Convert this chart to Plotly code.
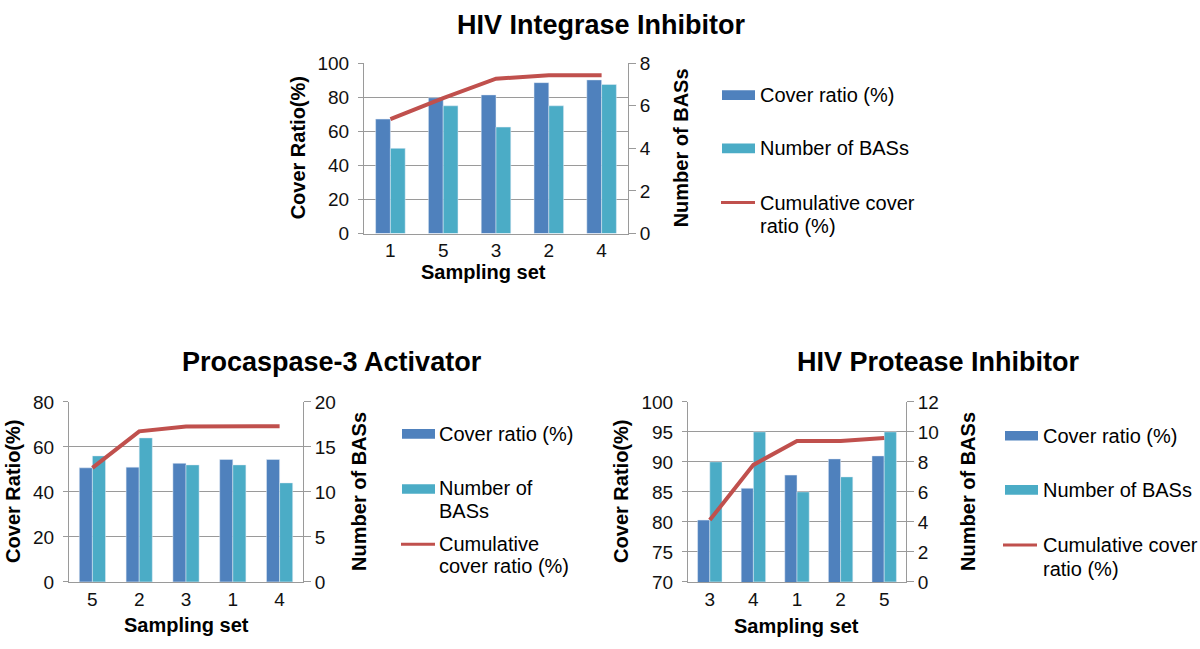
import plotly.graph_objects as go

# ---- Data ----
int_sets = ["1", "5", "3", "2", "4"]
int_cover = [67.2, 79.7, 81.4, 88.6, 90.2]
int_bas = [4, 6, 5, 6, 7]
int_cum = [67.2, 79.5, 90.9, 93.0, 93.0]

pro_sets = ["5", "2", "3", "1", "4"]
pro_cover = [50.7, 51.0, 52.7, 54.4, 54.4]
pro_bas = [14, 16, 13, 13, 11]
pro_cum = [50.7, 66.9, 69.1, 69.2, 69.2]

prot_sets = ["3", "4", "1", "2", "5"]
prot_cover = [80.3, 85.6, 87.8, 90.5, 91.0]
prot_bas = [8, 10, 6, 7, 10]
prot_cum = [80.3, 89.5, 93.5, 93.5, 94.0]

titles = ["HIV Integrase Inhibitor", "Procaspase-3 Activator", "HIV Protease Inhibitor"]

BLUE = "#4F81BD"
CYAN = "#4BACC6"
RED = "#C0504D"
GRID = "#9A9A9A"
FONT = "Liberation Sans, Arial, sans-serif"

W, H = 1200, 649


def px(x):
    return x / W


def py(y):
    return 1 - y / H


fig = go.Figure()

panels = [
    dict(sets=int_sets, cover=int_cover, bas=int_bas, cum=int_cum,
         xa="x", ya="y", ya2="y2", yl="y7", g="a"),
    dict(sets=pro_sets, cover=pro_cover, bas=pro_bas, cum=pro_cum,
         xa="x2", ya="y3", ya2="y4", yl="y8", g="b"),
    dict(sets=prot_sets, cover=prot_cover, bas=prot_bas, cum=prot_cum,
         xa="x3", ya="y5", ya2="y6", yl="y9", g="c"),
]

for p in panels:
    fig.add_trace(go.Bar(x=p["sets"], y=p["cover"], xaxis=p["xa"], yaxis=p["ya"],
                         marker_color=BLUE, name="Cover ratio (%)",
                         offsetgroup=p["g"] + "1", alignmentgroup=p["g"], showlegend=False))
    fig.add_trace(go.Bar(x=p["sets"], y=p["bas"], xaxis=p["xa"], yaxis=p["ya2"],
                         marker_color=CYAN, name="Number of BASs",
                         offsetgroup=p["g"] + "2", alignmentgroup=p["g"], showlegend=False))
    fig.add_trace(go.Scatter(x=p["sets"], y=p["cum"], xaxis=p["xa"], yaxis=p["yl"],
                             mode="lines", line=dict(color=RED, width=4),
                             name="Cumulative cover ratio (%)", showlegend=False))

tickfont = dict(family=FONT, size=19, color="#111")


def xax(dom, anchor):
    return dict(domain=dom, anchor=anchor, type="category", showline=True,
                linecolor=GRID, linewidth=1, showgrid=False, ticks="", ticklen=0,
                tickfont=tickfont, ticklabelstandoff=0)


def yax(dom, anchor, rng, dtick):
    return dict(domain=dom, anchor=anchor, range=rng, dtick=dtick, showline=True,
                linecolor=GRID, linewidth=1, showgrid=True, gridcolor=GRID, gridwidth=1,
                ticks="outside", ticklen=5, tickcolor=GRID, tickfont=tickfont,
                ticklabelstandoff=5, zeroline=False)


def y2ax(anchor, overlay, rng, dtick):
    return dict(anchor=anchor, overlaying=overlay, side="right", range=rng, dtick=dtick,
                showline=True, linecolor=GRID, linewidth=1, showgrid=False,
                ticks="outside", ticklen=7, tickcolor=GRID, tickfont=tickfont,
                zeroline=False)


def hidden(anchor, overlay, rng):
    return dict(anchor=anchor, overlaying=overlay, range=rng, visible=False,
                showgrid=False, zeroline=False)


top_x = [px(364), px(628)]
top_y = [py(231), py(55)]
bl_x = [px(69), px(303)]
br_x = [px(688), px(906)]
bot_y = [py(591), py(405)]

fig.update_layout(
    width=W, height=H,
    margin=dict(l=0, r=0, t=0, b=0),
    paper_bgcolor="white", plot_bgcolor="white",
    barmode="group", bargap=0.44, bargroupgap=0,
    xaxis=xax(top_x, "y"),
    yaxis=yax(top_y, "x", [0, 100], 20),
    yaxis2=y2ax("x", "y", [0, 8], 2),
    xaxis2=xax(bl_x, "y3"),
    yaxis3=yax(bot_y, "x2", [0, 80], 20),
    yaxis4=y2ax("x2", "y3", [0, 20], 5),
    xaxis3=xax(br_x, "y5"),
    yaxis5=yax(bot_y, "x3", [70, 100], 5),
    yaxis6=y2ax("x3", "y5", [0, 12], 2),
    yaxis7=hidden("x", "y", [0, 100]),
    yaxis8=hidden("x2", "y3", [0, 80]),
    yaxis9=hidden("x3", "y5", [70, 100]),
    font=dict(family=FONT),
)

ann = []


def text(x, y, t, size=20, bold=False, angle=0, xanchor="center"):
    ann.append(dict(x=px(x), y=py(y), xref="paper", yref="paper",
                    text=("<b>%s</b>" % t) if bold else t,
                    showarrow=False, textangle=angle, xanchor=xanchor, yanchor="middle",
                    font=dict(family=FONT, size=size, color="#000")))


# titles
text(601, 16, titles[0], size=27, bold=True)
text(332, 364, titles[1], size=27, bold=True)
text(938, 364, titles[2], size=27, bold=True)

# axis titles
text(298, 143, "Cover Ratio(%)", bold=True, angle=-90)
text(681, 143, "Number of BASs", bold=True, angle=-90)
text(483, 271, "Sampling set", bold=True)

text(13, 498, "Cover Ratio(%)", bold=True, angle=-90)
text(359, 498, "Number of BASs", bold=True, angle=-90)
text(186, 636, "Sampling set", bold=True)

text(621, 498, "Cover Ratio(%)", bold=True, angle=-90)
text(968, 498, "Number of BASs", bold=True, angle=-90)
text(796, 637, "Sampling set", bold=True)

shapes = []


def rect(x0, y, color):
    shapes.append(dict(type="rect", xref="paper", yref="paper", x0=px(x0), x1=px(x0 + 33),
                       y0=py(y + 5), y1=py(y - 5), fillcolor=color, line=dict(width=0)))


def hline(x0, y):
    shapes.append(dict(type="line", xref="paper", yref="paper", x0=px(x0), x1=px(x0 + 34),
                       y0=py(y), y1=py(y), line=dict(color=RED, width=3)))


# legend top
rect(722, 88, BLUE); text(758, 88, "Cover ratio (%)", xanchor="left")
rect(722, 143, CYAN); text(758, 143, "Number of BASs", xanchor="left")
hline(721, 199); text(758, 199, "Cumulative cover", xanchor="left")
text(758, 223, "ratio (%)", xanchor="left")

# legend bottom-left
rect(402, 438, BLUE); text(437, 438, "Cover ratio (%)", xanchor="left")
rect(402, 495, CYAN); text(437, 494, "Number of", xanchor="left")
text(437, 518, "BASs", xanchor="left")
hline(401, 552); text(437, 552, "Cumulative", xanchor="left")
text(437, 575, "cover ratio (%)", xanchor="left")

# legend bottom-right
rect(1005, 440, BLUE); text(1041, 440, "Cover ratio (%)", xanchor="left")
rect(1005, 496, CYAN); text(1041, 496, "Number of BASs", xanchor="left")
hline(1003, 553); text(1041, 553, "Cumulative cover", xanchor="left")
text(1041, 578, "ratio (%)", xanchor="left")

fig.update_layout(annotations=ann, shapes=shapes)

fig.write_html(
    "out.html",
    config={"displayModeBar": False},
    post_script=(
        "document.body.style.margin='0';"
        "document.body.style.overflow='hidden';"
        "var gd=document.getElementById('{plot_id}');"
        "gd.style.position='fixed';gd.style.top='0px';gd.style.left='0px';"
    ),
)
